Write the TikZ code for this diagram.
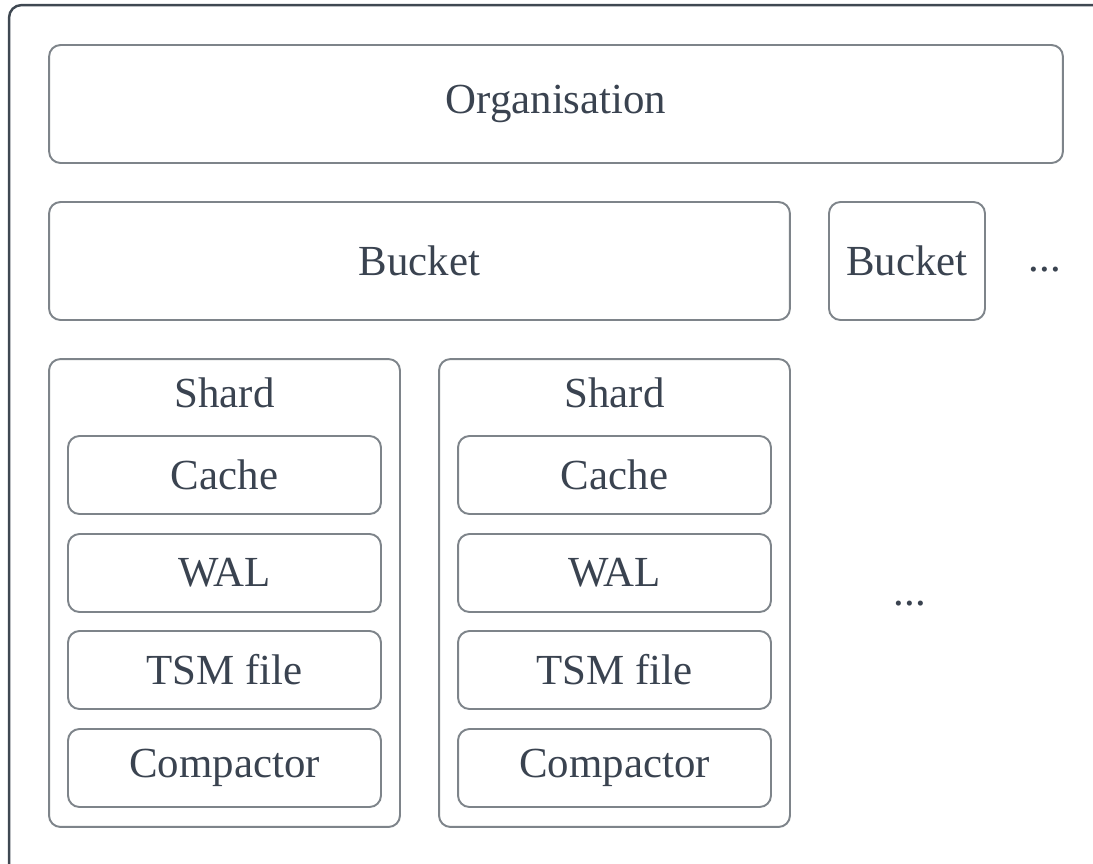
\documentclass[tikz,border=0pt]{standalone}
\usepackage{fontspec}
\setmainfont{Liberation Serif}

\definecolor{framegray}{HTML}{3F4852}
\definecolor{boxgray}{HTML}{7E848A}
\definecolor{txtgray}{HTML}{3A4350}

\tikzset{
  frame/.style={draw=framegray, line width=1.4pt, rounded corners=7pt},
  box/.style={draw=boxgray, line width=1.1pt, rounded corners=6.5pt, text=txtgray,
    inner sep=0pt, font=\fontsize{24.4}{28}\selectfont},
  lbl/.style={text=txtgray, inner sep=0pt, font=\fontsize{24.4}{28}\selectfont},
}

\begin{document}
\begin{tikzpicture}[x=0.02cm, y=-0.02cm]
      \useasboundingbox (0,0) rectangle (1093,863);
      \clip (0,0) rectangle (1093,863);

      % outer frame, runs off the right and bottom edges
      \node[frame, minimum width=22.02cm, minimum height=17.5cm](cluster) at (559.5, 442.5){};

      \node[box, minimum width=20.28cm, minimum height=2.36cm](org) at (556.0, 104.0){Organisation};

      \node[box, minimum width=14.82cm, minimum height=2.36cm](bucket1) at (419.5, 261.0){Bucket};
      \node[box, minimum width=3.12cm, minimum height=2.36cm](bucket2) at (907.0, 261.0){Bucket};
      \node[lbl](moreb) at (1045.0, 270.0){...};

      \foreach \x\s in {224.5/1,614.5/2} {
        \node[box, minimum width=7.02cm, minimum height=9.36cm](shard\s) at (\x, 593.0){};
        \node[lbl](title\s) at (\x, 393.0){Shard};
        \foreach \y\n\t in {475/cache/Cache,573/wal/WAL,670/tsm/TSM file,768/comp/Compactor} {
          \node[box, minimum width=6.26cm, minimum height=1.56cm](\n\s) at (\x, \y){\t};
        }
      }

      \node[lbl](mores) at (910.0, 604.0){...};
\end{tikzpicture}
\end{document}
